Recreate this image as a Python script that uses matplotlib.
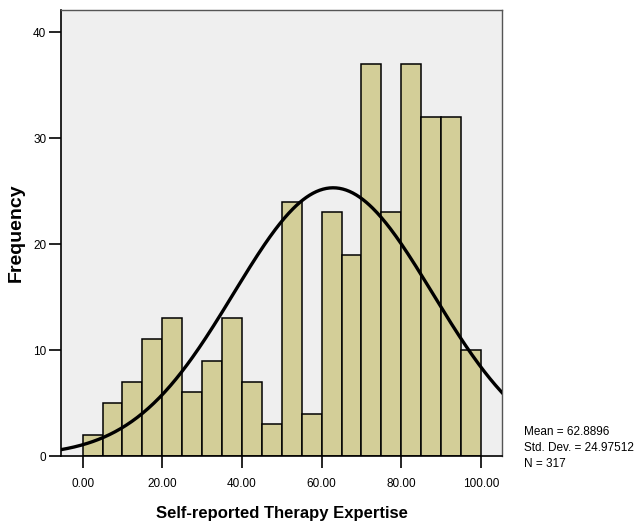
import numpy as np
import matplotlib
matplotlib.use('Agg')
from matplotlib import pyplot as plt

plt.rcParams['font.family'] = ['Liberation Sans', 'DejaVu Sans']

# histogram bins (width 5) and counts
bin_edges = [0, 5, 10, 15, 20, 25, 30, 35, 40, 45, 50, 55, 60, 65, 70, 75, 80, 85, 90, 95, 100]
counts = [2, 5, 7, 11, 13, 6, 9, 13, 7, 3, 24, 4, 23, 19, 37, 23, 37, 32, 32, 10]
xticks = [0, 20, 40, 60, 80, 100]
yticks = [0, 10, 20, 30, 40]

mean = 62.8896
sd = 24.97512
n = 317

fig = plt.figure(figsize=(6.35, 5.27), dpi=100)
ax = fig.add_axes([0.096, 0.1347, 0.6946, 0.8463])
ax.set_facecolor('#efefef')

lefts = bin_edges[:-1]
widths = np.diff(bin_edges)
ax.bar(lefts, counts, width=widths, align='edge', color='#d3ce98',
       edgecolor='black', linewidth=1.1, zorder=2)

# normal curve scaled to counts
xs = np.linspace(-5.45, 105.3, 400)
bw = 5
ys = n * bw / (sd * np.sqrt(2 * np.pi)) * np.exp(-0.5 * ((xs - mean) / sd) ** 2)
ax.plot(xs, ys, color='black', linewidth=2.4, zorder=3)

ax.set_xlim(-5.45, 105.3)
ax.set_ylim(0, 42.1)
ax.set_xticks(xticks)
ax.set_xticklabels(['%.2f' % v for v in xticks])
ax.set_yticks(yticks)
ax.tick_params(axis='both', labelsize=8.5, length=8.5, width=1.2, color='black')
ax.tick_params(axis='x', pad=7)
ax.tick_params(axis='y', pad=2)

for side in ['top', 'right']:
    ax.spines[side].set_color('#555555')
    ax.spines[side].set_linewidth(1)
for side in ['left', 'bottom']:
    ax.spines[side].set_color('black')
    ax.spines[side].set_linewidth(1.2)

ax.set_xlabel('Self-reported Therapy Expertise', fontsize=12, fontweight='bold', labelpad=12)
ax.set_ylabel('Frequency', fontsize=14, fontweight='bold')
ax.yaxis.set_label_coords(-0.082, 0.5)

fig.text(0.825, 0.192, 'Mean = 62.8896\nStd. Dev. = 24.97512\nN = 317',
         fontsize=8.5, va='top', ha='left', linespacing=1.45)

fig.savefig('out.png', dpi=100)
